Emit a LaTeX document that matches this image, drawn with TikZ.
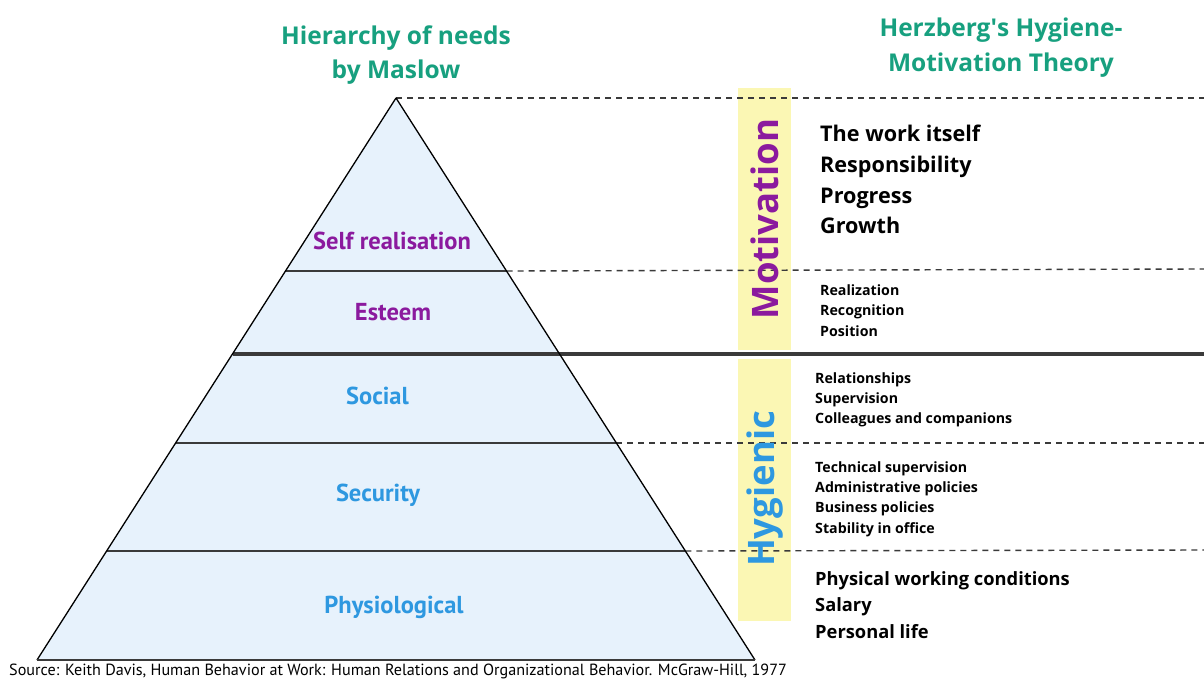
\documentclass[tikz,border=0pt]{standalone}
\usepackage{fontspec}
\setmainfont{Open Sans}
\newfontfamily\ptsans{PT Sans}
\definecolor{teal1}{HTML}{17A07F}
\definecolor{purp}{HTML}{8B1A9E}
\definecolor{blu}{HTML}{2E98E0}
\definecolor{yel}{HTML}{FBF7B4}
\definecolor{pyr}{HTML}{E7F2FC}
\definecolor{dk}{HTML}{3A3A3A}
\begin{document}
\begin{tikzpicture}[x=1pt,y=-1pt,
  title/.style={text=teal1,font=\fontsize{24.5}{34}\selectfont\bfseries,align=center,inner sep=0pt},
  lvlP/.style={text=purp,font=\ptsans\fontsize{24.5}{28}\selectfont\bfseries,anchor=base,inner sep=0pt},
  lvlB/.style={text=blu,font=\ptsans\fontsize{24.5}{28}\selectfont\bfseries,anchor=base,inner sep=0pt},
  big/.style={font=\fontsize{21.6}{25}\selectfont\bfseries,anchor=base west,inner sep=0pt},
  small/.style={font=\fontsize{14.2}{18}\selectfont\bfseries,anchor=base west,inner sep=0pt},
  mid/.style={font=\fontsize{18.3}{22}\selectfont\bfseries,anchor=base west,inner sep=0pt},
  vert/.style={rotate=90,font=\fontsize{36.5}{40}\selectfont\bfseries,inner sep=0pt},
  sep/.style={draw=dk,line width=1.4pt},
  dashsep/.style={draw=dk,line width=1.4pt,dash pattern=on 6pt off 5pt},
  thick sep/.style={draw=dk,line width=4pt}]
\useasboundingbox (0,0) rectangle (1204,698);
\fill[white] (0,0) rectangle (1204,698);
% coordinates
\coordinate (apex) at (396,98);
\coordinate (bl) at (37,660);
\coordinate (br) at (755,660);
\coordinate (a1) at (285.5,271); \coordinate (b1) at (506.5,271);
\coordinate (a2) at (232.5,354); \coordinate (b2) at (559.5,354);
\coordinate (a3) at (175.6,443); \coordinate (b3) at (616.4,443);
\coordinate (a4) at (106.6,551); \coordinate (b4) at (685.4,551);
\coordinate (e0) at (1204,98);
\coordinate (e1) at (1204,269);
\coordinate (e2) at (1204,354);
\coordinate (e3) at (1204,443);
\coordinate (e4) at (1204,550);
% yellow bars
\fill[yel] (738,88) rectangle (791,350);
\fill[yel] (738,359) rectangle (791,621);
% pyramid
\fill[pyr] (apex) -- (br) -- (bl) -- cycle;
\draw[sep] (a1) -- (b1);
\draw[sep] (a3) -- (b3);
\draw[sep] (a4) -- (b4);
\draw[thick sep] (a2) -- (e2);
\draw[dashsep] (apex) -- (e0);
\draw[dashsep] (b1) -- (e1);
\draw[dashsep] (b3) -- (e3);
\draw[dashsep] (b4) -- (e4);
\draw[black,line width=1.3pt] (apex) -- (br);
\draw[black,line width=1.3pt] (apex) -- (bl);
\draw[dk,line width=2pt] (bl) -- (br);
% vertical labels
\node[vert,text=purp] (mot) at (765,219) {Motivation};
\node[vert,text=blu] (hyg) at (765,489) {Hygienic};
% titles
\node[title,anchor=base] (t1) at (396,45) {Hierarchy of needs};
\node[title,anchor=base] (t1b) at (396,79) {by Maslow};
\node[title,anchor=base] (t2) at (1001,37) {Herzberg\textquotesingle s Hygiene-};
\node[title,anchor=base] (t2b) at (1001,72) {Motivation Theory};
% pyramid labels
\node[lvlP] (l1) at (392,249) {Self realisation};
\node[lvlP] (l2) at (393,320) {Esteem};
\node[lvlB] (l3) at (377.5,404) {Social};
\node[lvlB] (l4) at (378,501) {Security};
\node[lvlB] (l5) at (394,613) {Physiological};
% right texts
\node[big] (r1) at (820,142) {The work itself};
\node[big] (r2) at (820,172.5) {Responsibility};
\node[big] (r3) at (820,203) {Progress};
\node[big] (r4) at (820,233.5) {Growth};
\node[small] (s1) at (820,295) {Realization};
\node[small] (s2) at (820,315.5) {Recognition};
\node[small] (s3) at (820,336) {Position};
\node[small] (s4) at (815,383) {Relationships};
\node[small] (s5) at (815,403) {Supervision};
\node[small] (s6) at (815,423) {Colleagues and companions};
\node[small] (h1) at (815,472) {Technical supervision};
\node[small] (h2) at (815,492.3) {Administrative policies};
\node[small] (h3) at (815,512.6) {Business policies};
\node[small] (h4) at (815,533) {Stability in office};
\node[mid] (p1) at (815,585) {Physical working conditions};
\node[mid] (p2) at (815,611.5) {Salary};
\node[mid] (p3) at (815,638) {Personal life};
% source
\node[font=\ptsans\fontsize{16.15}{20}\selectfont,anchor=base west,inner sep=0pt] (src) at (9,675) {Source: Keith Davis, Human Behavior at Work: Human Relations and Organizational Behavior. McGraw-Hill, 1977};
\end{tikzpicture}
\end{document}
